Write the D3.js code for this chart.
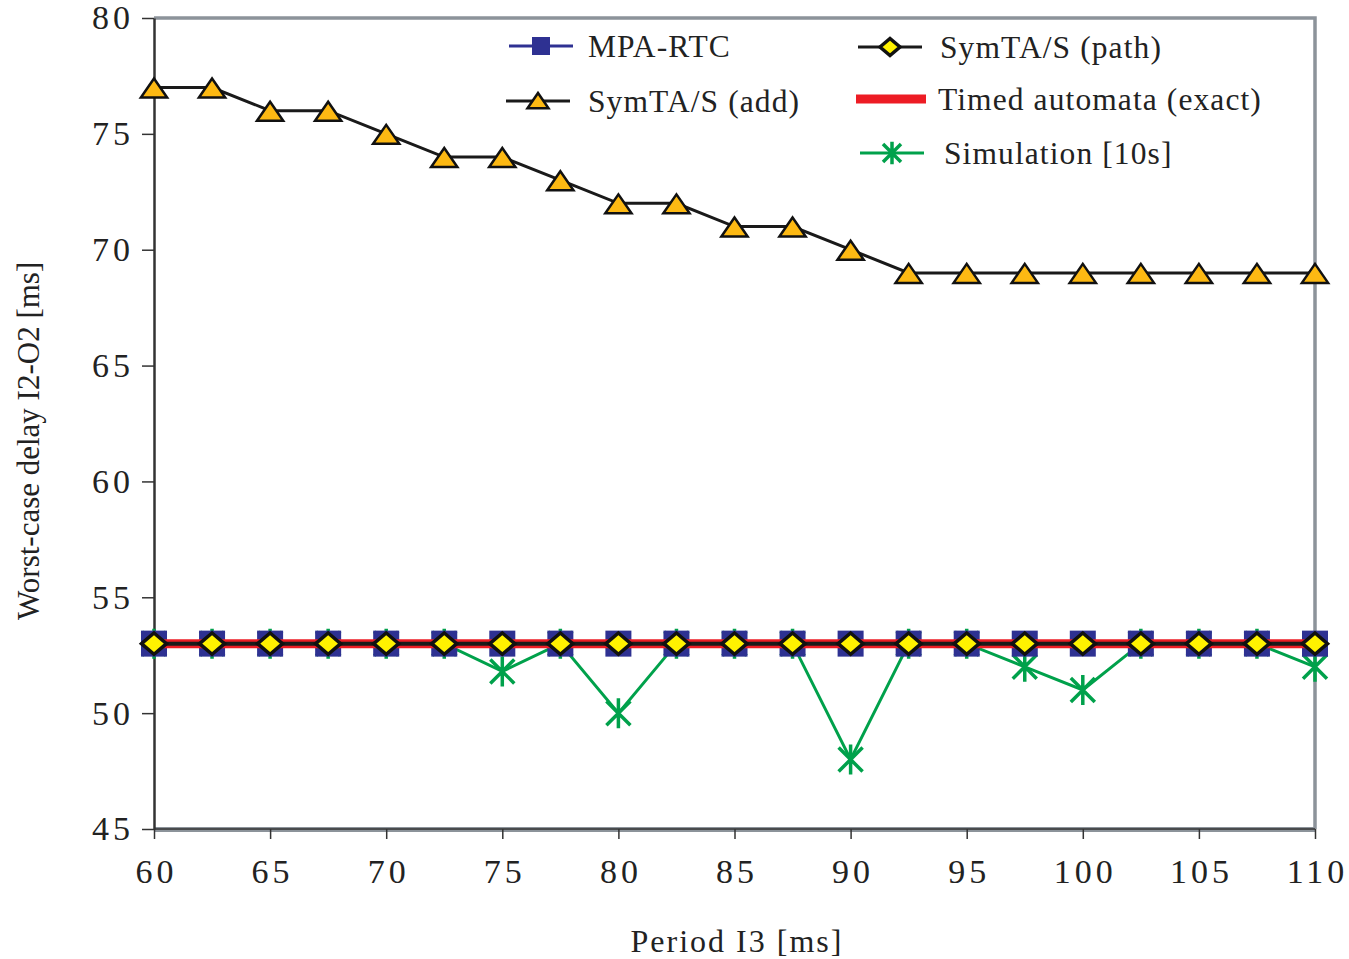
<!DOCTYPE html>
<html>
<head>
<meta charset="utf-8">
<script src="https://cdn.jsdelivr.net/npm/d3@7"></script>
<style>
  body { margin: 0; background: #fff; }
  text { font-family: "Liberation Serif", "DejaVu Serif", serif; fill: #222; }
</style>
</head>
<body>
<svg id="chart"></svg>
<script>
// period I3 [ms]
const periods = [60, 62.5, 65, 67.5, 70, 72.5, 75, 77.5, 80, 82.5, 85, 87.5, 90, 92.5, 95, 97.5, 100, 102.5, 105, 107.5, 110];
const mpaRtc   = [53, 53, 53, 53, 53, 53, 53, 53, 53, 53, 53, 53, 53, 53, 53, 53, 53, 53, 53, 53, 53];
const symtaAdd = [77, 77, 76, 76, 75, 74, 74, 73, 72, 72, 71, 71, 70, 69, 69, 69, 69, 69, 69, 69, 69];
const symtaPath = [53, 53, 53, 53, 53, 53, 53, 53, 53, 53, 53, 53, 53, 53, 53, 53, 53, 53, 53, 53, 53];
const timedAuto = [53, 53, 53, 53, 53, 53, 53, 53, 53, 53, 53, 53, 53, 53, 53, 53, 53, 53, 53, 53, 53];
const simulation = [53, 53, 53, 53, 53, 53, 51.8, 53, 50, 53, 53, 53, 48, 53, 53, 52, 51, 53, 53, 53, 52];
const xTicks = [60, 65, 70, 75, 80, 85, 90, 95, 100, 105, 110];
const yTicks = [45, 50, 55, 60, 65, 70, 75, 80];

const width = 1349, height = 959;
const margin = {top: 18, right: 34, bottom: 130, left: 154};
const w = width - margin.left - margin.right;
const h = height - margin.top - margin.bottom;

const svg = d3.select('#chart').attr('width', width).attr('height', height);
const g = svg.append('g').attr('transform', `translate(${margin.left},${margin.top})`);

const x = d3.scaleLinear().domain([60, 110]).range([0, w]);
const y = d3.scaleLinear().domain([45, 80]).range([h, 0]);

// frame top/right in grey
g.append('path')
  .attr('d', `M0,0H${w}V${h}`)
  .attr('fill', 'none').attr('stroke', '#8c939a').attr('stroke-width', 3.5);

// axes
const xAxis = g.append('g').attr('transform', `translate(0,${h})`)
  .call(d3.axisBottom(x).tickValues(xTicks).tickSize(10).tickSizeOuter(0).tickPadding(20));
const yAxis = g.append('g')
  .call(d3.axisLeft(y).tickValues(yTicks).tickSize(12).tickSizeOuter(0).tickPadding(10));
[xAxis, yAxis].forEach(a => {
  a.select('.domain').attr('stroke', '#333').attr('stroke-width', 2.5);
  a.selectAll('.tick line').attr('stroke', '#333').attr('stroke-width', 1.5);
  a.selectAll('.tick text').attr('font-size', 34).attr('letter-spacing', 4)
    .attr('font-family', '"Liberation Serif", serif').attr('fill', '#222');
});
xAxis.selectAll('.tick text').attr('dx', 2);
yAxis.selectAll('.tick text').attr('dx', 2);
xAxis.select('.domain').attr('stroke', '#8c939a').attr('stroke-width', 5);
xAxis.append('line').attr('x1', 0).attr('x2', w).attr('stroke', '#333').attr('stroke-width', 1.5);

// axis titles
svg.append('text').attr('x', 737).attr('y', 952)
  .attr('text-anchor', 'middle').attr('font-size', 32).attr('letter-spacing', 2).text('Period I3 [ms]');
svg.append('text').attr('transform', `translate(39,${margin.top + y(61.75)}) rotate(-90)`)
  .attr('text-anchor', 'middle').attr('font-size', 31).text('Worst-case delay I2-O2 [ms]');

const line = vals => d3.line().x((d, i) => x(periods[i])).y(d => y(d))(vals);

const colors = {mpa: '#2e3192', add: '#1a1a1a', path: '#1a1a1a', ta: '#ed1c24', sim: '#00a14b'};
const triFill = '#fdb913', diaFill = '#fff200';

function asterisk(sel, s) {
  sel.append('path')
    .attr('d', `M${-s},${-s}L${s},${s}M${-s},${s}L${s},${-s}M0,${-s * 1.25}V${s * 1.25}`)
    .attr('stroke', colors.sim).attr('stroke-width', 3.5).attr('fill', 'none');
}
function triangle(sel, s) {
  sel.append('path').attr('d', `M0,${-s * 0.8}L${s * 1.05},${s * 0.72}H${-s * 1.05}Z`)
    .attr('fill', triFill).attr('stroke', '#111').attr('stroke-width', 2.5).attr('stroke-linejoin', 'miter');
}
function diamond(sel, s) {
  sel.append('path').attr('d', `M${-s},0L0,${-s * 0.85}L${s},0L0,${s * 0.85}Z`)
    .attr('fill', diaFill).attr('stroke', '#111').attr('stroke-width', 3.5);
}
function square(sel, s) {
  sel.append('rect').attr('x', -s).attr('y', -s).attr('width', 2 * s).attr('height', 2 * s)
    .attr('fill', colors.mpa);
}

// simulation
g.append('path').attr('d', line(simulation)).attr('fill', 'none').attr('stroke', colors.sim).attr('stroke-width', 3);
g.selectAll('.sim').data(simulation).enter().append('g')
  .attr('transform', (d, i) => `translate(${x(periods[i])},${y(d)})`).each(function () { asterisk(d3.select(this), 12); });

// MPA-RTC
g.append('path').attr('d', line(mpaRtc)).attr('fill', 'none').attr('stroke', colors.mpa).attr('stroke-width', 3);
g.selectAll('.mpa').data(mpaRtc).enter().append('g')
  .attr('transform', (d, i) => `translate(${x(periods[i])},${y(d)})`).each(function () { square(d3.select(this), 13); });

// Timed automata
g.append('path').attr('d', line(timedAuto)).attr('fill', 'none').attr('stroke', colors.ta).attr('stroke-width', 9);

// SymTA/S path
g.append('path').attr('d', line(symtaPath)).attr('fill', 'none').attr('stroke', colors.path).attr('stroke-width', 4);
g.selectAll('.path').data(symtaPath).enter().append('g')
  .attr('transform', (d, i) => `translate(${x(periods[i])},${y(d)})`).each(function () { diamond(d3.select(this), 12.5); });

// SymTA/S add
g.append('path').attr('d', line(symtaAdd)).attr('fill', 'none').attr('stroke', colors.add).attr('stroke-width', 3);
g.selectAll('.add').data(symtaAdd).enter().append('g')
  .attr('transform', (d, i) => `translate(${x(periods[i])},${y(d) + 1})`).each(function () { triangle(d3.select(this), 12.5); });

// legend
const legend = [
  {name: 'MPA-RTC', x: 509, y: 46, tx: 588, type: 'mpa'},
  {name: 'SymTA/S (add)', x: 506, y: 101, tx: 588, type: 'add'},
  {name: 'SymTA/S (path)', x: 858, y: 47, tx: 940, type: 'path'},
  {name: 'Timed automata (exact)', x: 856, y: 99, tx: 938, type: 'ta'},
  {name: 'Simulation [10s]', x: 860, y: 153, tx: 944, type: 'sim'}
];
legend.forEach(l => {
  const lg = svg.append('g');
  const len = l.type === 'ta' ? 70 : 64;
  lg.append('line').attr('x1', l.x).attr('x2', l.x + len).attr('y1', l.y).attr('y2', l.y)
    .attr('stroke', colors[l.type]).attr('stroke-width', l.type === 'ta' ? 9 : 3);
  const m = lg.append('g').attr('transform', `translate(${l.x + len / 2},${l.y})`);
  if (l.type === 'mpa') square(m, 9);
  if (l.type === 'add') triangle(m, 10);
  if (l.type === 'path') diamond(m, 10);
  if (l.type === 'sim') asterisk(m, 9);
  lg.append('text').attr('x', l.tx).attr('y', l.y + 11).attr('font-size', 31.5).attr('letter-spacing', 1.1).text(l.name);
});
</script>
</body>
</html>
